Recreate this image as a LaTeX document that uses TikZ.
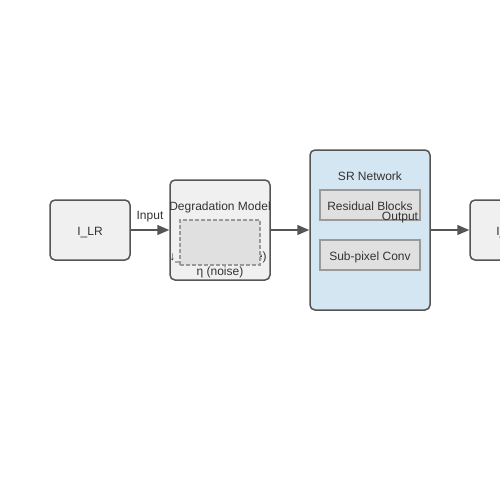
\documentclass[tikz,border=0pt]{standalone}
\usepackage{fontspec}
\setmainfont{Liberation Sans}
\usetikzlibrary{positioning, arrows.meta}
\definecolor{edgegray}{HTML}{555555}
\definecolor{boxfill}{HTML}{F0F0F0}
\definecolor{subfill}{HTML}{E0E0E0}
\definecolor{subedge}{HTML}{999999}
\definecolor{netfill}{HTML}{D4E6F1}
\definecolor{txt}{HTML}{333333}
\begin{document}
\begin{tikzpicture}[x=1pt, y=-1pt,
    font=\fontsize{12}{14}\selectfont, text=txt,
    every node/.append style={text height=10pt, text depth=0pt},
    block/.style={draw=edgegray, line width=1.5pt, fill=boxfill, rounded corners=5pt,
      minimum width=80pt, minimum height=60pt, inner sep=0pt},
    subblock/.style={draw=subedge, line width=1.5pt, fill=subfill,
      minimum width=100pt, minimum height=30pt, inner sep=0pt},
    flow/.style={draw=edgegray, line width=1.5pt, -{Triangle[length=12pt, width=10pt]}}]
      \useasboundingbox (0,0) rectangle (500,500);
      \node [block] (lr) at (90,230) {I\_LR};
      \node [block, minimum width=100pt, minimum height=100pt] (deg) at (220,230) {};
      \node (degtitle) at (220,205) {Degradation Model};
      \node (down) at (218,255) {↓\_s (downsample)};
      \node [draw=subedge, dash pattern=on 4pt off 2pt, line width=1.2pt, fill=subfill,
        minimum width=80pt, minimum height=45pt] (degop) at (220,242.5) {};
      \node (noise) at (220,270) {η (noise)};
      \node [block, fill=netfill, minimum width=120pt, minimum height=160pt] (sr) at (370,230) {};
      \node (srtitle) at (370,175) {SR Network};
      \node [subblock] (res) at (370,205) {Residual Blocks};
      \node [subblock] (sub) at (370,255) {Sub-pixel Conv};
      \node [block] (hr) at (510,230) {I\_HR};
      \draw [flow] (lr) -- node [above=6pt] {Input} (deg);
      \draw [flow] (deg) -- (sr);
      \draw [flow] (sr) -- (hr);
      \node (outlbl) at (400,215) {Output};
\end{tikzpicture}
\end{document}
